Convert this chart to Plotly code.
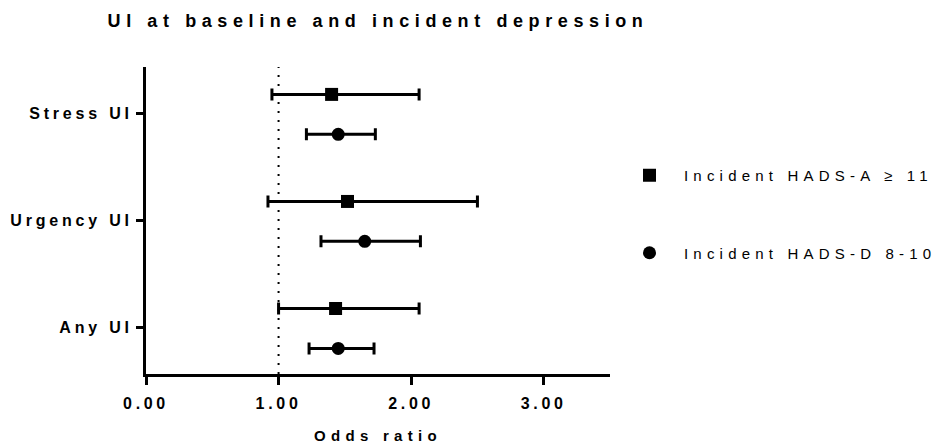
import plotly.graph_objects as go

# ---- data ----
categories = ["Stress UI", "Urgency UI", "Any UI"]
series_names = ["Incident HADS-A \u2265 11", "Incident HADS-D 8-10"]
hads_a_or = [1.40, 1.52, 1.43]
hads_a_lo = [0.95, 0.92, 1.00]
hads_a_hi = [2.06, 2.50, 2.06]
hads_d_or = [1.45, 1.65, 1.45]
hads_d_lo = [1.21, 1.32, 1.23]
hads_d_hi = [1.73, 2.07, 1.72]
x_ticks = [0, 1, 2, 3]
x_tick_labels = ["0.00", "1.00", "2.00", "3.00"]

FONT = "Liberation Sans, Arial, sans-serif"
n = len(categories)
cat_pos = [n - 1 - i for i in range(n)]  # Stress at top

def trace(name, orv, lo, hi, symbol, offset, group):
    return go.Scatter(
        x=orv,
        y=[p + offset for p in cat_pos],
        mode="markers",
        name=name,
        legendgroup=group,
        marker=dict(symbol=symbol, size=13, color="black", line=dict(width=0)),
        error_x=dict(
            type="data",
            symmetric=False,
            array=[h - o for h, o in zip(hi, orv)],
            arrayminus=[o - l for o, l in zip(orv, lo)],
            thickness=3,
            width=6,
            color="black",
        ),
    )

fig = go.Figure()
fig.add_trace(trace(series_names[0], hads_a_or, hads_a_lo, hads_a_hi, "square", 0.178, "a"))
fig.add_trace(trace(series_names[1], hads_d_or, hads_d_lo, hads_d_hi, "circle", -0.195, "d"))

fig.add_shape(type="line", x0=1, x1=1, xref="x", y0=0, y1=1, yref="paper",
              line=dict(color="black", width=2, dash="2px,7px"), layer="below")

fig.update_layout(
    width=937, height=446,
    margin=dict(l=146, r=327, t=67, b=72),
    paper_bgcolor="white", plot_bgcolor="white",
    font=dict(family=FONT, color="black"),
    title=dict(text="UI at baseline and incident depression",
               font=dict(size=18, weight="bold", family=FONT, color="black"),
               x=0.5, xref="paper", xanchor="center",
               y=1 - 21 / 446, yref="container", yanchor="middle"),
    showlegend=True,
    legend=dict(
        x=615 / 937, xref="container", xanchor="left",
        y=1 - 159 / 446, yref="container", yanchor="top",
        font=dict(size=15, family=FONT, color="black"),
        tracegroupgap=55, itemwidth=59, bgcolor="rgba(0,0,0,0)",
    ),
    xaxis=dict(
        range=[0, 3.5], tickvals=x_ticks, ticktext=x_tick_labels,
        showgrid=False, zeroline=False, automargin=False,
        showline=True, linecolor="black", linewidth=3,
        ticks="outside", ticklen=8, tickwidth=3, tickcolor="black",
        ticklabelstandoff=5,
        tickfont=dict(size=16, weight="bold", family=FONT, color="black"),
        title=dict(text="Odds ratio", standoff=20,
                   font=dict(size=15, weight="bold", family=FONT, color="black")),
    ),
    yaxis=dict(
        range=[-0.434, 2.434], tickvals=cat_pos, ticktext=categories,
        showgrid=False, zeroline=False, automargin=False,
        showline=True, linecolor="black", linewidth=3,
        ticks="outside", ticklen=7, tickwidth=3, tickcolor="black",
        tickfont=dict(size=16, weight="bold", family=FONT, color="black"),
    ),
)

post = """
var gd = document.getElementById('{plot_id}');
function sp(sel, v){ gd.querySelectorAll(sel).forEach(function(e){ e.style.letterSpacing = v; }); }
sp('.gtitle', '5.6px');
sp('.ytick text', '3.8px');
sp('.xtick text', '3.7px');
sp('.xtitle', '5.3px');
sp('.legendtext', '5.2px');
gd.querySelectorAll('.legend [clip-path]').forEach(function(e){ e.removeAttribute('clip-path'); });
gd.querySelectorAll('svg').forEach(function(s){ s.style.overflow = 'hidden'; });
document.documentElement.style.overflow = 'hidden';
document.body.style.overflow = 'hidden';
"""

fig.write_html("out.html", post_script=post)
